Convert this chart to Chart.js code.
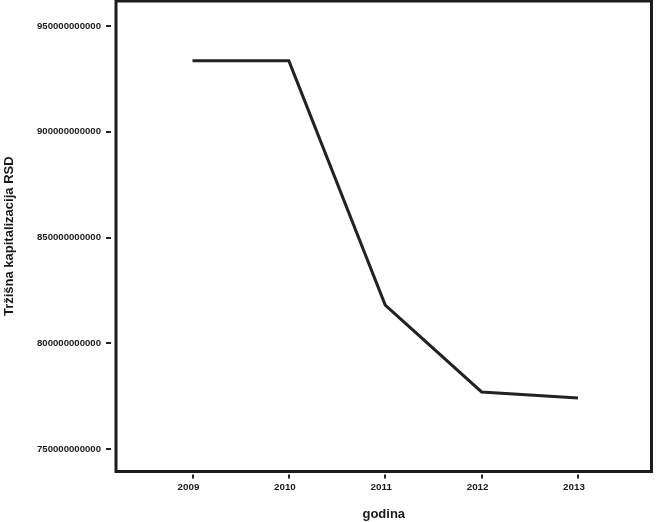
<!DOCTYPE html>
<html><head><meta charset="utf-8">
<script src="https://cdn.jsdelivr.net/npm/chart.js@4/dist/chart.umd.min.js"></script>
<style>html,body{margin:0;padding:0;background:#fff;overflow:hidden;}canvas{display:block;}</style>
</head><body>
<canvas id="c" width="656" height="522"></canvas>
<script>
const years = [2009, 2010, 2011, 2012, 2013];
const marketCap = [933.5e9, 933.5e9, 818.1e9, 777.0e9, 774.1e9];
const yTickValues = [750e9, 800e9, 850e9, 900e9, 950e9];
const xTitle = 'godina';
const yTitle = 'Tržišna kapitalizacija RSD';

const FONT = '"Liberation Sans", Arial, sans-serif';
const INK = '#1a1a1a';

const framePlugin = {
  id: 'frame',
  afterDraw(chart) {
    const {ctx, chartArea: a, scales: {x, y}} = chart;
    ctx.save();
    ctx.strokeStyle = '#1c1c1c';
    ctx.lineWidth = 3;
    ctx.strokeRect(a.left, a.top, a.right - a.left, a.bottom - a.top);
    ctx.lineWidth = 2;
    ctx.strokeStyle = '#222';
    y.ticks.forEach(t => {
      const py = Math.round(y.getPixelForValue(t.value));
      ctx.beginPath(); ctx.moveTo(a.left - 10, py); ctx.lineTo(a.left - 5, py); ctx.stroke();
    });
    x.ticks.forEach(t => {
      const px = Math.round(x.getPixelForValue(t.value));
      ctx.beginPath(); ctx.moveTo(px, a.bottom + 3); ctx.lineTo(px, a.bottom + 7); ctx.stroke();
    });
    ctx.restore();
  }
};

new Chart(document.getElementById('c'), {
  type: 'line',
  data: {
    datasets: [{
      data: years.map((yr, i) => ({x: yr, y: marketCap[i]})),
      borderColor: '#222',
      borderWidth: 3,
      pointRadius: 0,
      tension: 0,
      fill: false
    }]
  },
  options: {
    responsive: false,
    animation: false,
    layout: {padding: {top: 1, right: 4.5, left: 0, bottom: 0}},
    plugins: {legend: {display: false}, tooltip: {enabled: false}},
    scales: {
      x: {
        type: 'linear',
        min: 2008.206,
        max: 2013.763,
        afterBuildTicks: s => { s.ticks = years.map(v => ({value: v})); },
        afterFit: s => { s.height = 50.5; s.paddingLeft = 0; s.paddingRight = 0; s.paddingTop = 0; s.paddingBottom = 0; },
        grid: {display: false, drawTicks: false},
        border: {display: false},
        ticks: {
          padding: 10,
          labelOffset: -4,
          color: INK,
          font: {family: FONT, size: 9.8, weight: 'bold'},
          callback: v => String(v)
        },
        title: {display: true, text: xTitle, color: INK, padding: {top: 0, bottom: 0},
          font: {family: FONT, size: 13, weight: 'bold'}}
      },
      y: {
        type: 'linear',
        min: 739.4e9,
        max: 961.8e9,
        afterBuildTicks: s => { s.ticks = yTickValues.map(v => ({value: v})); },
        afterFit: s => { s.width = 116; s.paddingTop = 0; s.paddingBottom = 0; s.paddingLeft = 0; s.paddingRight = 0; },
        grid: {display: false, drawTicks: false},
        border: {display: false},
        ticks: {
          padding: 15,
          color: INK,
          font: {family: FONT, size: 9.6, weight: 'bold'},
          callback: v => String(v)
        },
        title: {display: true, text: yTitle, color: INK, padding: {top: 2, bottom: 0},
          font: {family: FONT, size: 13, weight: 'bold'}}
      }
    }
  },
  plugins: [framePlugin]
});
</script>
</body></html>
